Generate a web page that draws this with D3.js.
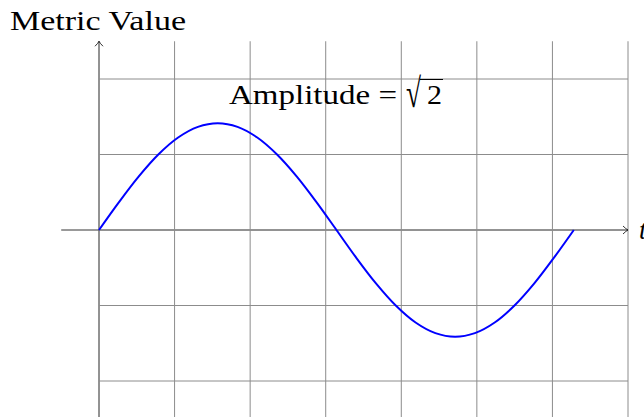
<!DOCTYPE html>
<html>
<head>
<meta charset="utf-8">
<script src="https://cdn.jsdelivr.net/npm/d3@7"></script>
<style>
  body { margin: 0; background: #fff; }
</style>
</head>
<body>
<script>
var tValues = [0, 0.262, 0.524, 0.785, 1.047, 1.309, 1.571, 1.833, 2.094, 2.356, 2.618, 2.880,
               3.142, 3.403, 3.665, 3.927, 4.189, 4.451, 4.712, 4.974, 5.236, 5.498, 5.760, 6.021, 6.283];
var metricValues = [0, 0.366, 0.707, 1.0, 1.225, 1.366, 1.414, 1.366, 1.225, 1.0, 0.707, 0.366,
                    0, -0.366, -0.707, -1.0, -1.225, -1.366, -1.414, -1.366, -1.225, -1.0, -0.707, -0.366, 0];
var gridX = [0, 1, 2, 3, 4, 5, 6, 7];
var gridY = [-2, -1, 0, 1, 2];
var yLabel = "Metric Value";
var xLabel = "t";
var noteText = "Amplitude =";
var noteRoot = "2";

var serif = "'Liberation Serif', 'Times New Roman', Times, serif";

function init(){
    var width = 644, height = 417;
    var svg = d3.select("body").append("svg")
        .attr("width", width)
        .attr("height", height);

    var x = d3.scaleLinear().domain([0, 7]).range([99, 628]);
    var y = d3.scaleLinear().domain([-2, 2]).range([381, 79]);

    // axes (drawn first, the grid goes over them)
    svg.append("line")
        .attr("x1", x(-0.5)).attr("x2", x(7))
        .attr("y1", y(0)).attr("y2", y(0))
        .attr("stroke", "#000").attr("stroke-width", 0.8);
    svg.append("line")
        .attr("x1", x(0)).attr("x2", x(0))
        .attr("y1", y(-2.6)).attr("y2", y(2.5))
        .attr("stroke", "#000").attr("stroke-width", 0.8);

    // grid
    var grid = svg.append("g")
        .attr("stroke", "#8c8c8c")
        .attr("stroke-width", 1);
    grid.selectAll(".gx")
        .data(gridX)
        .enter().append("line")
        .attr("x1", function(d) { return x(d); })
        .attr("x2", function(d) { return x(d); })
        .attr("y1", y(2.5))
        .attr("y2", y(-2.6));
    grid.selectAll(".gy")
        .data(gridY)
        .enter().append("line")
        .attr("x1", x(0))
        .attr("x2", x(7))
        .attr("y1", function(d) { return y(d); })
        .attr("y2", function(d) { return y(d); });

    // arrow heads
    var ax = x(7), ay = y(0);
    svg.append("path")
        .attr("d", "M" + (ax - 5) + "," + (ay - 4) + " Q" + (ax - 2) + "," + (ay - 1) + " " + ax + "," + ay +
                   " Q" + (ax - 2) + "," + (ay + 1) + " " + (ax - 5) + "," + (ay + 4))
        .attr("fill", "none").attr("stroke", "#000").attr("stroke-width", 0.8);
    var bx = x(0), by = y(2.5);
    svg.append("path")
        .attr("d", "M" + (bx - 4) + "," + (by + 5) + " Q" + (bx - 1) + "," + (by + 2) + " " + bx + "," + by +
                   " Q" + (bx + 1) + "," + (by + 2) + " " + (bx + 4) + "," + (by + 5))
        .attr("fill", "none").attr("stroke", "#000").attr("stroke-width", 0.8);

    // the curve
    var points = tValues.map(function(t, i) { return [t, metricValues[i]]; });
    var line = d3.line()
        .x(function(d) { return x(d[0]); })
        .y(function(d) { return y(d[1]); })
        .curve(d3.curveCatmullRom);
    svg.append("path")
        .datum(points)
        .attr("d", line)
        .attr("fill", "none")
        .attr("stroke", "#0000ff")
        .attr("stroke-width", 2);

    // labels
    svg.append("text")
        .attr("x", 10).attr("y", 30)
        .attr("font-family", serif)
        .attr("font-size", 28)
        .attr("textLength", 176).attr("lengthAdjust", "spacingAndGlyphs")
        .text(yLabel);
    svg.append("text")
        .attr("x", 639).attr("y", y(0) + 9)
        .attr("font-family", serif)
        .attr("font-size", 27)
        .attr("font-style", "italic")
        .text(xLabel);

    var note = svg.append("g").attr("font-family", serif);
    note.append("text")
        .attr("x", 229).attr("y", 104)
        .attr("font-size", 27)
        .attr("textLength", 168).attr("lengthAdjust", "spacingAndGlyphs")
        .text(noteText);
    note.append("text")
        .attr("x", 406).attr("y", 107)
        .attr("font-size", 41)
        .attr("textLength", 15).attr("lengthAdjust", "spacingAndGlyphs")
        .text("\u221A");
    note.append("text")
        .attr("x", 427).attr("y", 104)
        .attr("font-size", 27)
        .attr("textLength", 15).attr("lengthAdjust", "spacingAndGlyphs")
        .text(noteRoot);
    note.append("line")
        .attr("x1", 420).attr("x2", 443)
        .attr("y1", 79.5).attr("y2", 79.5)
        .attr("stroke", "#000").attr("stroke-width", 1);
}

window.onload = init;
</script>
</body>
</html>
